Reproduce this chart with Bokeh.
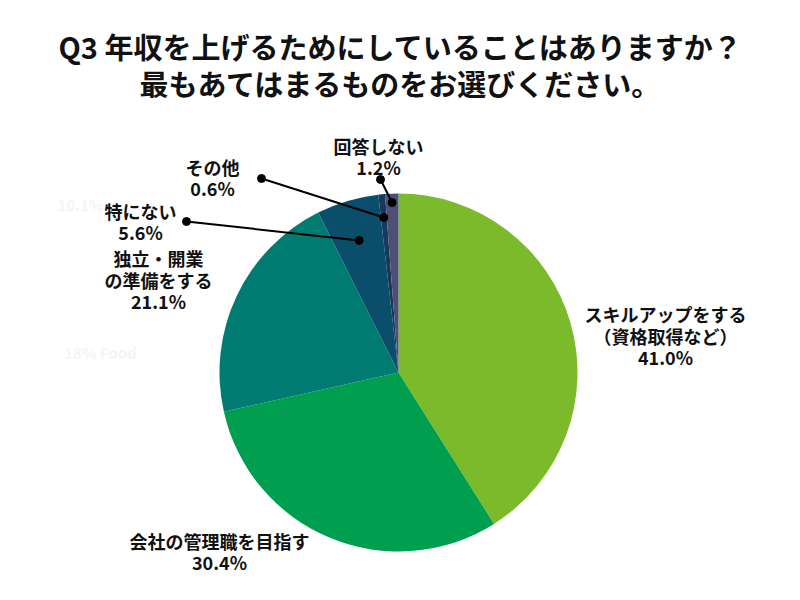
import math
from bokeh.plotting import figure
from bokeh.models import Range1d
from bokeh.core.properties import value
from bokeh.embed import file_html
from bokeh.resources import INLINE

# survey answers, clockwise from 12 o'clock
categories = ["スキルアップをする\n（資格取得など）", "会社の管理職を目指す",
              "独立・開業\nの準備をする", "特にない", "その他", "回答しない"]
shares = [41.0, 30.4, 21.1, 5.6, 0.6, 1.2]
colors = ["#7bba2a", "#009f50", "#007b71", "#0b4e6c", "#163a5c", "#4d4f77"]

title_lines = ["Q3 年収を上げるためにしていることはありますか？",
               "最もあてはまるものをお選びください。"]

# label block centres (image pixels) and leader line start points
label_pos = [(665, 335), (219, 551), (158, 279), (140, 221), (212, 177), (378, 156)]
leader_from = [None, None, None, (186, 221), (261, 178), (380, 179)]
leader_r = [None, None, None, 0.77, 0.87, 0.95]

FONT = "Noto Sans CJK JP"
H = 600
LINE = 21.5
cx, cy, R = 398, 372, 179

p = figure(width=784, height=584, output_backend="svg", toolbar_location=None,
           x_range=Range1d(0, 784), y_range=Range1d(16, 600),
           x_axis_location=None, y_axis_location=None, min_border=0)
p.grid.visible = False
p.outline_line_color = None

total = sum(shares)
starts, ends, mids = [], [], []
acc = 0.0
for s in shares:
    a0 = math.pi / 2 - 2 * math.pi * acc / total
    acc += s
    a1 = math.pi / 2 - 2 * math.pi * acc / total
    starts.append(a0)
    ends.append(a1)
    mids.append((a0 + a1) / 2)

p.wedge(x=cx, y=H - cy, radius=R, start_angle=starts, end_angle=ends,
        direction="clock", fill_color=colors, line_color=None)

# faint ghost texts left over in the original
p.text(x=[80, 100], y=[H - 204, H - 352], text=["10.1%", "18% Food"],
       text_color="#f5f5f5", text_font=value(FONT), text_font_size="15px",
       text_font_style="bold", text_align="center", text_baseline="middle")

# leader lines
for i, src in enumerate(leader_from):
    if src is None:
        continue
    ex = cx + leader_r[i] * R * math.cos(mids[i])
    ey = (H - cy) + leader_r[i] * R * math.sin(mids[i])
    p.line([src[0], ex], [H - src[1], ey], line_color="black", line_width=2)
    p.scatter([src[0], ex], [H - src[1], ey], size=8, color="black")

# labels, one text per line
xs, ys, lines = [], [], []
for (lx, ly), c, s in zip(label_pos, categories, shares):
    parts = c.split("\n") + [f"{s:.1f}%"]
    top = ly - LINE * (len(parts) - 1) / 2
    for k, t in enumerate(parts):
        xs.append(lx)
        ys.append(H - (top + k * LINE))
        lines.append(t)
p.text(x=xs, y=ys, text=lines,
       text_font=value(FONT), text_font_size="18px", text_font_style="bold",
       text_color="#111111", text_align="center", text_baseline="middle")

p.text(x=[400, 400], y=[H - 45, H - 82], text=title_lines,
       text_font=value(FONT), text_font_size="29px", text_font_style="bold",
       text_color="#111111", text_align="center", text_baseline="middle")

open("out.html", "w").write(file_html(p, INLINE))
